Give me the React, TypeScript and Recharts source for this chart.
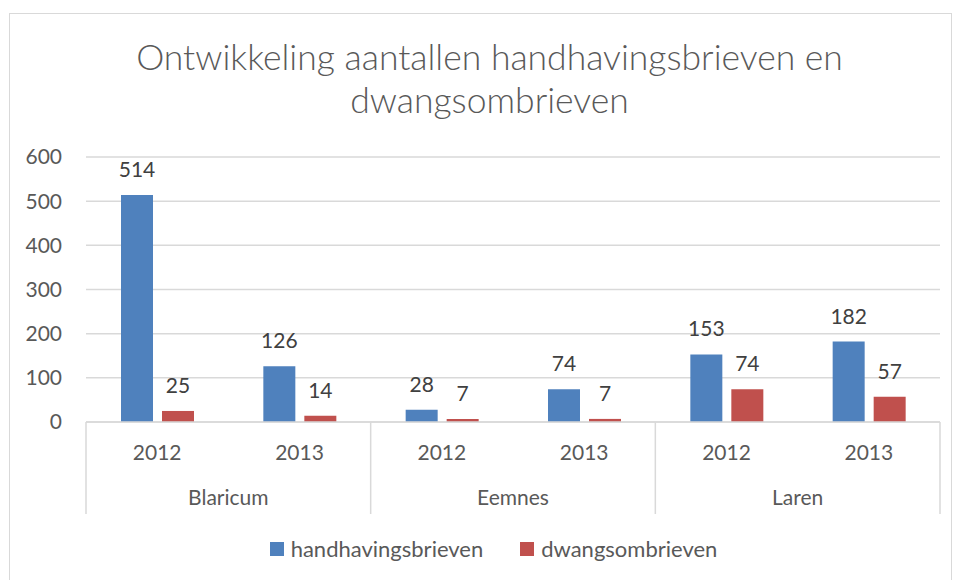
import React from "react";
import { BarChart, Bar, XAxis, YAxis, CartesianGrid, LabelList } from "recharts";

const municipalities = ["Blaricum", "Blaricum", "Eemnes", "Eemnes", "Laren", "Laren"];
const years = ["2012", "2013", "2012", "2013", "2012", "2013"];
const handhavingsbrieven = [514, 126, 28, 74, 153, 182];
const dwangsombrieven = [25, 14, 7, 7, 74, 57];
const groupNames = ["Blaricum", "Eemnes", "Laren"];
const yTicks = [0, 100, 200, 300, 400, 500, 600];

const data = years.map((y, i) => ({
  key: i,
  year: y,
  muni: municipalities[i],
  handhavingsbrieven: handhavingsbrieven[i],
  dwangsombrieven: dwangsombrieven[i],
}));

const W = 959;
const H = 580;
const LEFT = 86;
const RIGHT_M = 19;
const TOP = 157;
const AXIS_H = 95;
const BOTTOM_M = H - 422 - AXIS_H;
const PLOT_W = W - LEFT - RIGHT_M;
const SLOT = PLOT_W / years.length;

const FONT = "Lato, 'Open Sans', sans-serif";
const GRID = "#d9d9d9";
const TXT = "#595959";

const XTick = (props: any) => {
  const { x, payload } = props;
  const idx = payload.index;
  const year = years[idx];
  const left = x - SLOT / 2;
  const top = 422;
  const els: any[] = [];
  els.push(
    <text key="y" x={x} y={top + 38} textAnchor="middle" fill={TXT} fontSize={21} fontFamily={FONT}>
      {year}
    </text>
  );
  if (idx % 2 === 0) {
    els.push(<line key="l" x1={left} x2={left} y1={top} y2={top + 92} stroke={GRID} strokeWidth={1.5} />);
    els.push(
      <text key="m" x={left + SLOT} y={top + 83} textAnchor="middle" fill={TXT} fontSize={21} fontFamily={FONT}>
        {groupNames[idx / 2]}
      </text>
    );
  }
  if (idx === years.length - 1) {
    els.push(<line key="r" x1={x + SLOT / 2} x2={x + SLOT / 2} y1={top} y2={top + 92} stroke={GRID} strokeWidth={1.5} />);
  }
  return <g>{els}</g>;
};

export default function App() {
  return (
    <div style={{ position: "absolute", left: 0, top: 0, width: W, height: H, background: "#fff", overflow: "hidden" }}>
      <div
        style={{
          position: "absolute",
          left: 9,
          top: 13,
          width: 943,
          height: 600,
          border: "1px solid #d9d9d9",
          boxSizing: "border-box",
        }}
      />
      <div
        style={{
          position: "absolute",
          left: 10,
          top: 35,
          width: W,
          textAlign: "center",
          fontFamily: FONT,
          fontWeight: 300,
          fontSize: 35.5,
          lineHeight: "43px",
          color: TXT,
        }}
      >
        Ontwikkeling aantallen handhavingsbrieven en
        <br />
        dwangsombrieven
      </div>
      <div style={{ position: "absolute", left: 0, top: 0 }}>
        <BarChart
          width={W}
          height={H}
          data={data}
          margin={{ top: TOP, right: RIGHT_M, bottom: BOTTOM_M, left: 0 }}
          barSize={32}
          barGap={9}
        >
          <CartesianGrid vertical={false} stroke={GRID} strokeWidth={1.5} />
          <XAxis
            dataKey="key"
            height={AXIS_H}
            tick={<XTick />}
            tickLine={false}
            axisLine={{ stroke: GRID, strokeWidth: 1.5 }}
            interval={0}
          />
          <YAxis
            width={LEFT}
            domain={[0, 600]}
            ticks={yTicks}
            tickLine={false}
            axisLine={false}
            tickMargin={18}
            tick={{ fill: TXT, fontSize: 21, fontFamily: FONT }}
          />
          <Bar dataKey="handhavingsbrieven" fill="#4f81bd" isAnimationActive={false}>
            <LabelList dataKey="handhavingsbrieven" position="top" offset={18} fill="#404040" fontSize={21} fontFamily={FONT} />
          </Bar>
          <Bar dataKey="dwangsombrieven" fill="#c0504d" isAnimationActive={false}>
            <LabelList dataKey="dwangsombrieven" position="top" offset={18} fill="#404040" fontSize={21} fontFamily={FONT} />
          </Bar>
        </BarChart>
      </div>
      <div
        style={{
          position: "absolute",
          left: 14,
          top: 535,
          width: W,
          display: "flex",
          justifyContent: "center",
          alignItems: "center",
          fontFamily: FONT,
          fontSize: 22,
          color: TXT,
        }}
      >
        <span style={{ display: "inline-flex", alignItems: "center", marginLeft: 0 }}>
          <span style={{ width: 14, height: 14, background: "#4f81bd", display: "inline-block", marginRight: 7 }} />
          handhavingsbrieven
        </span>
        <span style={{ display: "inline-flex", alignItems: "center", marginLeft: 37 }}>
          <span style={{ width: 14, height: 14, background: "#c0504d", display: "inline-block", marginRight: 7 }} />
          dwangsombrieven
        </span>
      </div>
    </div>
  );
}
